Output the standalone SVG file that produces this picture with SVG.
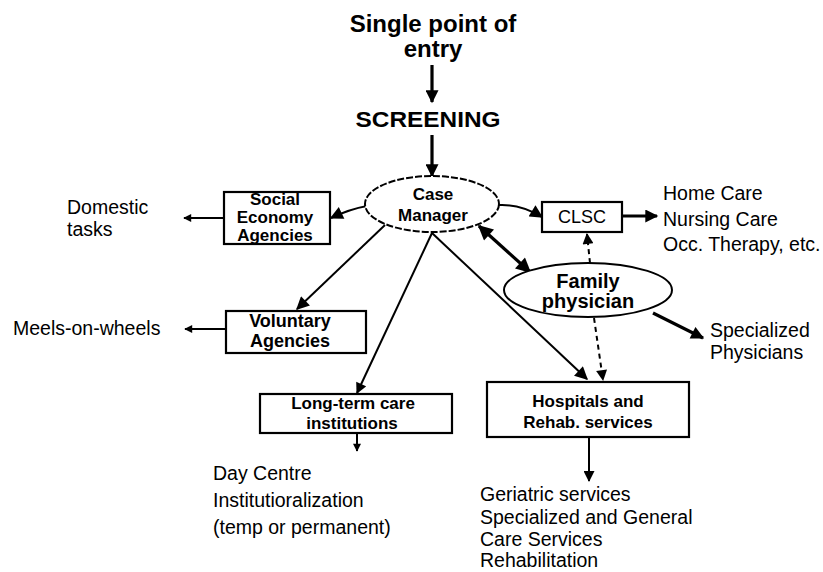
<svg xmlns="http://www.w3.org/2000/svg" width="823" height="572" viewBox="0 0 823 572">
<style>
text{font-family:"Liberation Sans",Arial,Helvetica,sans-serif;fill:#000}
.b{font-weight:bold}
.lbl{font-size:19.5px}
.box{fill:#fff;stroke:#000;stroke-width:2.2}
.ell{fill:#fff;stroke:#000;stroke-width:2}
.c{fill:none;stroke:#000;stroke-width:2}
.thick{stroke-width:3.2}
.dash{stroke-dasharray:5 4}
</style>
<defs>
<marker id="big" viewBox="0 0 10 10" refX="9" refY="5" markerWidth="14" markerHeight="13" markerUnits="userSpaceOnUse" orient="auto"><path d="M0,0 L10,5 L0,10 z"/></marker>
<marker id="med" viewBox="0 0 10 10" refX="9" refY="5" markerWidth="12" markerHeight="11" markerUnits="userSpaceOnUse" orient="auto"><path d="M0,0 L10,5 L0,10 z"/></marker>
<marker id="sm" viewBox="0 0 10 10" refX="9" refY="5" markerWidth="9" markerHeight="8" markerUnits="userSpaceOnUse" orient="auto"><path d="M0,0 L10,5 L0,10 z"/></marker>
<marker id="dbl" viewBox="0 0 10 10" refX="9" refY="5" markerWidth="16" markerHeight="15" markerUnits="userSpaceOnUse" orient="auto-start-reverse"><path d="M0,0 L10,5 L0,10 z"/></marker>
</defs>
<rect width="823" height="572" fill="#fff"/>

<g id="connectors">
<path class="c thick" d="M432,65 L432,102" marker-end="url(#big)"/>
<path class="c thick" d="M432,135 L432,176" marker-end="url(#big)"/>
<path class="c" d="M367,206 Q350,209 331,218" marker-end="url(#big)"/>
<path class="c" d="M224,218 L184,218" marker-end="url(#sm)"/>
<path class="c" d="M385,225 L297,309" marker-end="url(#big)"/>
<path class="c" d="M226,329 L185,329" marker-end="url(#sm)"/>
<path class="c" d="M432,233 L357,393" marker-end="url(#med)"/>
<path class="c" d="M357,433 L357,451" marker-end="url(#sm)"/>
<path class="c" d="M432,233 L587,379" marker-end="url(#big)"/>
<path class="c" d="M589,437 L589,481" marker-end="url(#med)"/>
<path class="c" d="M499,205 Q521,204 542,217" marker-end="url(#big)"/>
<path class="c thick" d="M622,216 L657,216" marker-end="url(#big)"/>
<path class="c thick" d="M479,226 L530,272" marker-start="url(#dbl)" marker-end="url(#dbl)"/>
<path class="c dash" d="M590,263 L587,234" marker-end="url(#med)"/>
<path class="c thick" d="M653,313 L703,338" marker-end="url(#big)"/>
<path class="c dash" d="M594,318 L603,380" marker-end="url(#med)"/>
</g>

<g id="entry">
<text class="b" x="433" y="32" font-size="24" text-anchor="middle">Single point of</text>
<text class="b" x="433" y="57" font-size="24" text-anchor="middle">entry</text>
</g>

<g id="screening">
<text class="b" x="428" y="127" font-size="22" text-anchor="middle" textLength="145" lengthAdjust="spacingAndGlyphs">SCREENING</text>
</g>

<g id="case-manager">
<ellipse class="ell" cx="432" cy="204" rx="67" ry="28" stroke-dasharray="7 2"/>
<text class="b" x="433" y="200" font-size="17" text-anchor="middle">Case</text>
<text class="b" x="433" y="221" font-size="17" text-anchor="middle">Manager</text>
</g>

<g id="social-economy">
<rect class="box" x="224" y="192" width="106" height="52"/>
<text class="b" x="275" y="205" font-size="17" text-anchor="middle">Social</text>
<text class="b" x="275" y="223" font-size="17" text-anchor="middle">Economy</text>
<text class="b" x="275" y="241" font-size="17" text-anchor="middle">Agencies</text>
</g>

<g id="domestic">
<text class="lbl" x="67" y="214">Domestic</text>
<text class="lbl" x="67" y="236">tasks</text>
</g>

<g id="voluntary">
<rect class="box" x="226" y="311" width="140" height="42"/>
<text class="b" x="290" y="327" font-size="18" text-anchor="middle">Voluntary</text>
<text class="b" x="290" y="347" font-size="18" text-anchor="middle">Agencies</text>
</g>

<g id="meals">
<text class="lbl" x="13" y="335">Meels-on-wheels</text>
</g>

<g id="long-term">
<rect class="box" x="260" y="394" width="192" height="39"/>
<text class="b" x="353" y="409" font-size="17" text-anchor="middle">Long-term care</text>
<text class="b" x="352" y="429" font-size="17" text-anchor="middle">institutions</text>
</g>

<g id="day-centre">
<text class="lbl" x="213" y="480">Day Centre</text>
<text class="lbl" x="213" y="507">Institutioralization</text>
<text class="lbl" x="213" y="534">(temp or permanent)</text>
</g>

<g id="hospitals">
<rect class="box" x="487" y="382" width="202" height="55"/>
<text class="b" x="588" y="407" font-size="17" text-anchor="middle">Hospitals and</text>
<text class="b" x="588" y="428" font-size="17" text-anchor="middle">Rehab. services</text>
</g>

<g id="geriatric">
<text class="lbl" x="480" y="501">Geriatric services</text>
<text class="lbl" x="480" y="524">Specialized and General</text>
<text class="lbl" x="480" y="546">Care Services</text>
<text class="lbl" x="480" y="567">Rehabilitation</text>
</g>

<g id="clsc">
<rect class="box" x="542" y="202" width="80" height="30"/>
<text x="582" y="223" font-size="18" text-anchor="middle">CLSC</text>
</g>

<g id="home-care">
<text class="lbl" x="663" y="200">Home Care</text>
<text class="lbl" x="663" y="226">Nursing Care</text>
<text class="lbl" x="663" y="251">Occ. Therapy, etc.</text>
</g>

<g id="family-physician">
<ellipse class="ell" cx="588" cy="290" rx="84" ry="27"/>
<text class="b" x="588" y="288" font-size="20" text-anchor="middle">Family</text>
<text class="b" x="588" y="308" font-size="20" text-anchor="middle">physician</text>
</g>

<g id="specialized">
<text class="lbl" x="710" y="337">Specialized</text>
<text class="lbl" x="710" y="359">Physicians</text>
</g>
</svg>
